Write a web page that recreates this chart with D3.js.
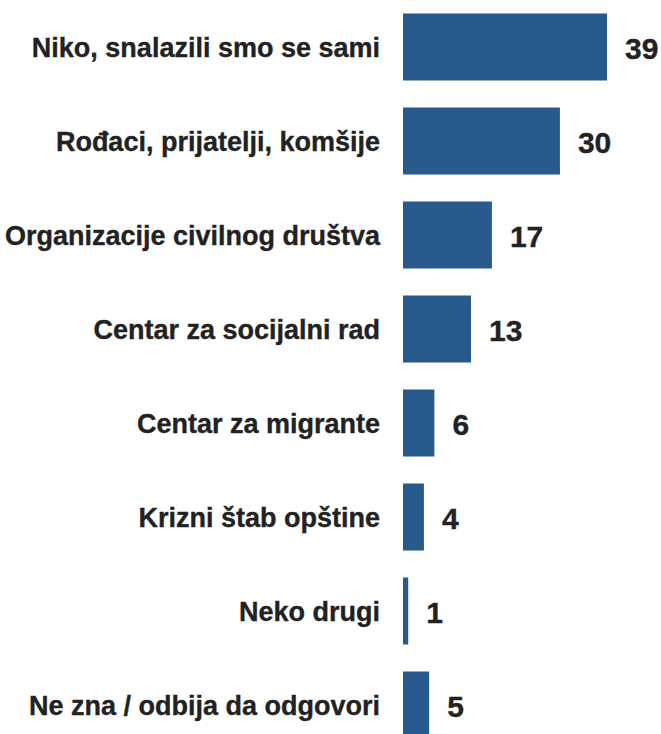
<!DOCTYPE html>
<html>
<head>
<meta charset="utf-8">
<script src="https://cdn.jsdelivr.net/npm/d3@7"></script>
<style>
  body { margin: 0; background: #fff; }
  text { font-family: "Liberation Sans", Arial, sans-serif; font-weight: bold; fill: #222; stroke: #222; stroke-width: 0.35px; }
</style>
</head>
<body>
<div class="chart"></div>
<script>
var categories = [
  "Niko, snalazili smo se sami",
  "Rođaci, prijatelji, komšije",
  "Organizacije civilnog društva",
  "Centar za socijalni rad",
  "Centar za migrante",
  "Krizni štab opštine",
  "Neko drugi",
  "Ne zna / odbija da odgovori"
];
var values = [39, 30, 17, 13, 6, 4, 1, 5];

var width = 661;
var height = 734;
var left = 403;

var svg = d3.select(".chart").append("svg")
    .attr("width", width)
    .attr("height", height);

var x = d3.scaleLinear()
    .domain([0, 39])
    .range([0, 204]);

var y = d3.scaleBand()
    .domain(categories)
    .range([0, 752])
    .paddingInner(0.287)
    .paddingOuter(0.1435);

var data = categories.map(function(c, i) { return {name: c, value: values[i]}; });

svg.append("g")
    .attr("class", "bars")
  .selectAll("rect")
  .data(data)
  .enter().append("rect")
    .attr("x", left)
    .attr("y", function(d) { return y(d.name); })
    .attr("width", function(d) { return x(d.value); })
    .attr("height", y.bandwidth())
    .attr("fill", "#285b8c");

svg.append("g")
    .attr("class", "labels")
  .selectAll("text")
  .data(data)
  .enter().append("text")
    .attr("x", left - 23)
    .attr("y", function(d) { return y(d.name) + y.bandwidth() / 2; })
    .attr("dy", "0.37em")
    .attr("text-anchor", "end")
    .style("font-size", "27px")
    .text(function(d) { return d.name; });

svg.append("g")
    .attr("class", "values")
  .selectAll("text")
  .data(data)
  .enter().append("text")
    .attr("x", function(d) { return left + x(d.value) + 18; })
    .attr("y", function(d) { return y(d.name) + y.bandwidth() / 2; })
    .attr("dy", "0.4em")
    .style("font-size", "30px")
    .text(function(d) { return d.value; });
</script>
</body>
</html>
